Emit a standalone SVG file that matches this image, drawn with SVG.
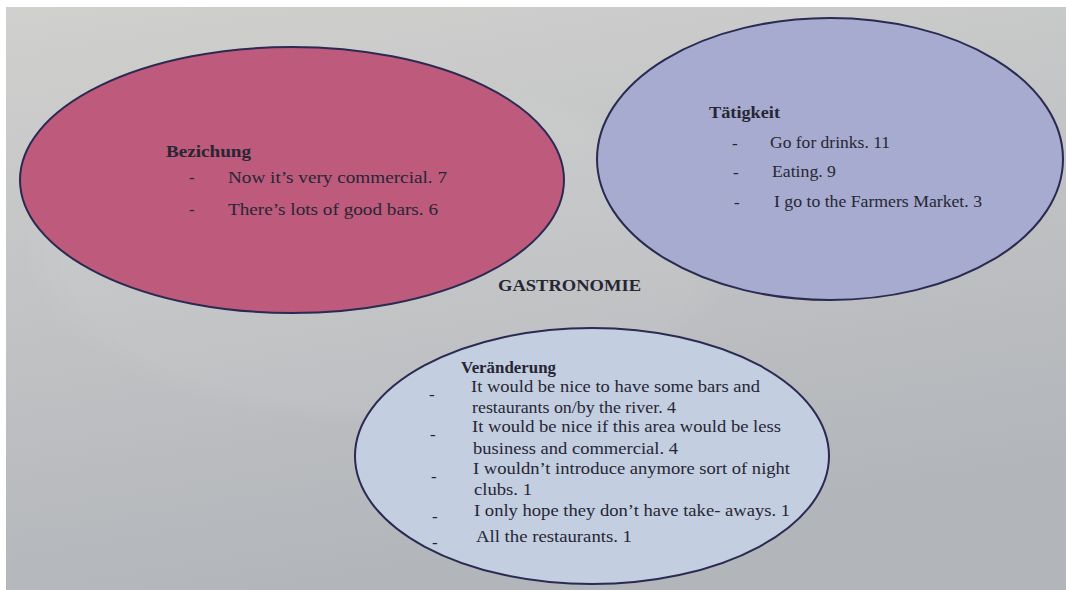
<svg xmlns="http://www.w3.org/2000/svg" width="1066" height="590" viewBox="0 0 1066 590">
<defs>
<linearGradient id="bg" x1="0" y1="0" x2="0.3" y2="1">
<stop offset="0" stop-color="#d0d0ce"/>
<stop offset="1" stop-color="#b2b5ba"/>
</linearGradient>
<radialGradient id="halo" cx="0.5" cy="0.5" r="0.5">
<stop offset="0.88" stop-color="#ffffff" stop-opacity="0.05"/>
<stop offset="1" stop-color="#ffffff" stop-opacity="0"/>
</radialGradient>
</defs>
<style>
.t{font-family:"Liberation Serif","Times New Roman",serif;font-size:17px;fill:#262634}
.b{font-weight:bold}
.e{stroke:#2a2a52;stroke-width:2}
</style>
<rect x="0" y="0" width="1066" height="590" fill="#ffffff"/>
<rect x="6" y="7" width="1060" height="583" fill="url(#bg)"/>
<ellipse cx="380" cy="250" rx="360" ry="175" fill="url(#halo)"/>
<g id="title">
<text class="t b" x="498" y="291" textLength="143" lengthAdjust="spacingAndGlyphs">GASTRONOMIE</text>
</g>
<g id="connectors"/>
<g id="beziehung">
<ellipse class="e" cx="292" cy="180" rx="272" ry="133" fill="#be5a7c"/>
<text class="t b" x="166" y="157" textLength="85" lengthAdjust="spacingAndGlyphs">Bezichung</text>
<text class="t" x="189" y="183">-</text>
<text class="t" x="228" y="183" textLength="219" lengthAdjust="spacingAndGlyphs">Now it’s very commercial. 7</text>
<text class="t" x="189" y="215">-</text>
<text class="t" x="228" y="215" textLength="210" lengthAdjust="spacingAndGlyphs">There’s lots of good bars. 6</text>
</g>
<g id="taetigkeit">
<ellipse class="e" cx="830" cy="159" rx="233" ry="141" fill="#a7abcf"/>
<text class="t b" x="709" y="118" textLength="71" lengthAdjust="spacingAndGlyphs">Tätigkeit</text>
<text class="t" x="732" y="149">-</text>
<text class="t" x="770" y="148" textLength="120" lengthAdjust="spacingAndGlyphs">Go for drinks. 11</text>
<text class="t" x="733" y="178">-</text>
<text class="t" x="772" y="177" textLength="64" lengthAdjust="spacingAndGlyphs">Eating. 9</text>
<text class="t" x="734" y="208">-</text>
<text class="t" x="774" y="207" textLength="208" lengthAdjust="spacingAndGlyphs">I go to the Farmers Market. 3</text>
</g>
<g id="veraenderung">
<ellipse class="e" cx="592" cy="456" rx="237" ry="128" fill="#c3cee0"/>
<text class="t b" x="461" y="373" textLength="95" lengthAdjust="spacingAndGlyphs">Veränderung</text>
<text class="t" x="429" y="400">-</text>
<text class="t" x="471" y="392" textLength="289" lengthAdjust="spacingAndGlyphs">It would be nice to have some bars and</text>
<text class="t" x="472" y="413" textLength="204" lengthAdjust="spacingAndGlyphs">restaurants on/by the river. 4</text>
<text class="t" x="430" y="440">-</text>
<text class="t" x="472" y="432" textLength="309" lengthAdjust="spacingAndGlyphs">It would be nice if this area would be less</text>
<text class="t" x="473" y="454" textLength="205" lengthAdjust="spacingAndGlyphs">business and commercial. 4</text>
<text class="t" x="431" y="482">-</text>
<text class="t" x="473" y="474" textLength="317" lengthAdjust="spacingAndGlyphs">I wouldn’t introduce anymore sort of night</text>
<text class="t" x="474" y="495" textLength="58" lengthAdjust="spacingAndGlyphs">clubs. 1</text>
<text class="t" x="432" y="522">-</text>
<text class="t" x="474" y="516" textLength="316" lengthAdjust="spacingAndGlyphs">I only hope they don’t have take- aways. 1</text>
<text class="t" x="432" y="548">-</text>
<text class="t" x="476" y="542" textLength="156" lengthAdjust="spacingAndGlyphs">All the restaurants. 1</text>
</g>
</svg>
